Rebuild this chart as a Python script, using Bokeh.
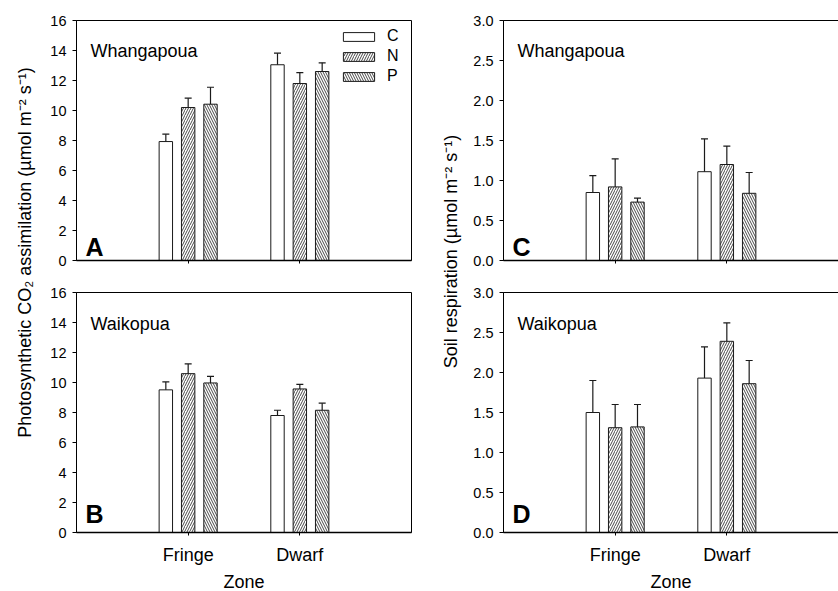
import math
from bokeh.plotting import figure
from bokeh.models import (ColumnDataSource, Range1d, FixedTicker, Whisker, TeeHead,
                          Label, Legend, LegendItem, NumeralTickFormatter)
from bokeh.layouts import row, column
from bokeh.embed import file_html
from bokeh.resources import INLINE

FONT = "Liberation Sans"

zones = ["Fringe", "Dwarf"]
treatments = ["C", "N", "P"]

# A: Whangapoua, photosynthetic CO2 assimilation
wh_photo_C = [7.93, 13.05]
wh_photo_N = [10.2, 11.8]
wh_photo_P = [10.42, 12.6]
wh_photo_C_se = [0.49, 0.77]
wh_photo_N_se = [0.62, 0.73]
wh_photo_P_se = [1.13, 0.58]

# B: Waikopua, photosynthetic CO2 assimilation
wk_photo_C = [9.51, 7.8]
wk_photo_N = [10.59, 9.57]
wk_photo_P = [9.97, 8.15]
wk_photo_C_se = [0.53, 0.35]
wk_photo_N_se = [0.65, 0.31]
wk_photo_P_se = [0.44, 0.47]

# C: Whangapoua, soil respiration
wh_resp_C = [0.85, 1.11]
wh_resp_N = [0.92, 1.20]
wh_resp_P = [0.73, 0.84]
wh_resp_C_se = [0.21, 0.41]
wh_resp_N_se = [0.35, 0.23]
wh_resp_P_se = [0.05, 0.26]

# D: Waikopua, soil respiration
wk_resp_C = [1.50, 1.93]
wk_resp_N = [1.31, 2.39]
wk_resp_P = [1.32, 1.86]
wk_resp_C_se = [0.40, 0.39]
wk_resp_N_se = [0.29, 0.23]
wk_resp_P_se = [0.28, 0.29]

photo_ticks = [0, 2, 4, 6, 8, 10, 12, 14, 16]
resp_ticks = [0.0, 0.5, 1.0, 1.5, 2.0, 2.5, 3.0]

HATCH = {"C": None, "N": "/", "P": "\\"}
OFFSET = {"C": -0.2, "N": 0.0, "P": 0.2}
EDGE = "#1a1a1a"


def make_panel(means, ses, ticks, fmt, site, letter, bottom, legend=False):
    ymax = ticks[-1]
    mb_top = 20 if not bottom else 16
    mb_bottom = 16 if not bottom else 59
    p = figure(frame_width=335, frame_height=240,
               x_range=Range1d(0, 3), y_range=Range1d(0, ymax),
               output_backend="svg", toolbar_location=None,
               min_border_top=mb_top, min_border_bottom=mb_bottom,
               min_border_left=36 if fmt is None else 32,
               min_border_right=19 if fmt is None else 1)
    p.xgrid.visible = False
    p.ygrid.visible = False
    p.outline_line_color = "black"
    p.outline_line_width = 1
    p.background_fill_color = "white"
    p.border_fill_color = "white"

    renderers = {}
    positions = [i + 1 for i in range(len(zones))]
    for t in treatments:
        xs = [x + OFFSET[t] for x in positions]
        tops = means[t]
        uppers = [m + s for m, s in zip(tops, ses[t])]
        src = ColumnDataSource(dict(x=xs, top=tops, upper=uppers))
        r = p.vbar(x="x", top="top", bottom=0, width=0.12, source=src,
                   fill_color="white", line_color=EDGE, line_width=1,
                   hatch_pattern=HATCH[t], hatch_color="#333333",
                   hatch_scale=5, hatch_weight=0.9)
        renderers[t] = r
        w = Whisker(source=src, base="x", lower="top", upper="upper",
                    line_color=EDGE, line_width=1.2, level="overlay",
                    upper_head=TeeHead(size=7, line_color=EDGE, line_width=1.2),
                    lower_head=None)
        p.add_layout(w)

    # axes
    xa = p.xaxis[0]
    xa.ticker = FixedTicker(ticks=positions)
    if bottom:
        xa.major_label_overrides = {pos: z for pos, z in zip(positions, zones)}
        xa.axis_label = "Zone"
    else:
        xa.major_label_overrides = {pos: "" for pos in positions}
    xa.major_tick_out = 3
    xa.major_tick_in = 0
    xa.minor_tick_out = 0
    xa.axis_line_width = 1.5
    xa.axis_line_color = "black"
    xa.major_tick_line_color = "black"
    xa.major_label_standoff = 9
    xa.major_label_text_font = FONT
    xa.major_label_text_font_size = "18px"
    xa.major_label_text_color = "black"
    xa.axis_label_text_font = FONT
    xa.axis_label_text_font_size = "18px"
    xa.axis_label_text_font_style = "normal"
    xa.axis_label_text_color = "black"
    xa.axis_label_standoff = 4

    ya = p.yaxis[0]
    ya.ticker = FixedTicker(ticks=ticks)
    if fmt is not None:
        ya.formatter = NumeralTickFormatter(format=fmt)
    ya.major_tick_out = 4
    ya.major_tick_in = 0
    ya.minor_tick_out = 0
    ya.axis_line_color = "black"
    ya.major_tick_line_color = "black"
    ya.major_label_standoff = 6
    ya.major_label_text_font = FONT
    ya.major_label_text_font_size = "14.5px"
    ya.major_label_text_color = "black"

    # site name and panel letter
    xu = 3 / 335.0
    yu = ymax / 240.0
    p.add_layout(Label(x=14 * xu, y=(210 if not bottom else 209) * yu, text=site,
                       text_font=FONT, text_font_size="18px", text_color="black",
                       text_baseline="alphabetic"))
    p.add_layout(Label(x=9 * xu, y=(14 if not bottom else 19) * yu, text=letter,
                       text_font=FONT, text_font_size="25px", text_font_style="bold",
                       text_color="black", text_baseline="alphabetic"))

    if legend:
        items = [LegendItem(label=t, renderers=[renderers[t]]) for t in treatments]
        lg = Legend(items=items, location=(263, 175), border_line_color=None,
                    background_fill_alpha=0, padding=0, margin=0, spacing=2,
                    glyph_width=39, glyph_height=11, label_standoff=9,
                    label_height=11, label_text_font=FONT,
                    label_text_font_size="16px", label_text_color="black")
        p.add_layout(lg)
    return p


pA = make_panel({"C": wh_photo_C, "N": wh_photo_N, "P": wh_photo_P},
                {"C": wh_photo_C_se, "N": wh_photo_N_se, "P": wh_photo_P_se},
                photo_ticks, None, "Whangapoua", "A", bottom=False, legend=True)
pB = make_panel({"C": wk_photo_C, "N": wk_photo_N, "P": wk_photo_P},
                {"C": wk_photo_C_se, "N": wk_photo_N_se, "P": wk_photo_P_se},
                photo_ticks, None, "Waikopua", "B", bottom=True)
pC = make_panel({"C": wh_resp_C, "N": wh_resp_N, "P": wh_resp_P},
                {"C": wh_resp_C_se, "N": wh_resp_N_se, "P": wh_resp_P_se},
                resp_ticks, "0.0", "Whangapoua", "C", bottom=False)
pD = make_panel({"C": wk_resp_C, "N": wk_resp_N, "P": wk_resp_P},
                {"C": wk_resp_C_se, "N": wk_resp_N_se, "P": wk_resp_P_se},
                resp_ticks, "0.0", "Waikopua", "D", bottom=True)


def label_fig(text, xc, yc):
    f = figure(width=40, height=591, x_range=Range1d(0, 40), y_range=Range1d(0, 591),
               x_axis_type=None, y_axis_type=None, output_backend="svg",
               toolbar_location=None, min_border=0)
    f.xgrid.visible = False
    f.ygrid.visible = False
    f.outline_line_color = None
    f.add_layout(Label(x=xc, y=591 - yc, text=text, angle=math.pi / 2,
                       text_align="center", text_baseline="middle",
                       text_font=FONT, text_font_size="18px", text_color="black"))
    return f


left_label = label_fig("Photosynthetic CO\u2082 assimilation (\u00b5mol m\u207b\u00b2 s\u207b\u00b9)", 24, 252)
right_label = label_fig("Soil respiration (\u00b5mol m\u207b\u00b2 s\u207b\u00b9)", 20, 251)

layout = row(left_label, column(pA, pB), right_label, column(pC, pD))

open("out.html", "w").write(file_html(layout, INLINE))
